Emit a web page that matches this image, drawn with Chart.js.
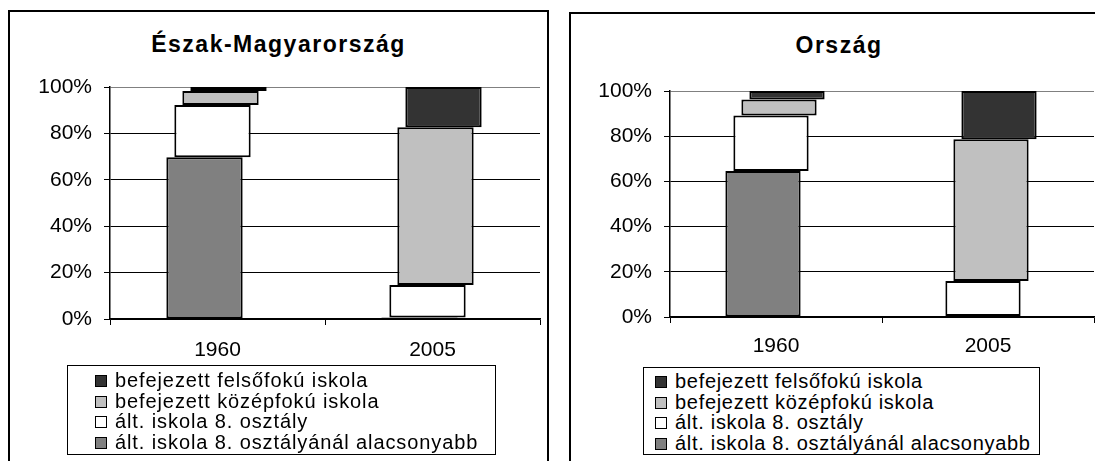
<!DOCTYPE html>
<html>
    <head>
        <meta charset="utf-8">
        <script src="https://cdn.jsdelivr.net/npm/chart.js"></script>
        <title>Iskolai végzettség</title>
        <style>
            body { margin:0; background:#fff; overflow:hidden; width:1095px; height:461px; position:relative; font-family:"Liberation Sans", Arial, sans-serif; }
            .panel { position:absolute; box-sizing:border-box; border:2px solid #000; background:#fff; }
            .title { position:absolute; left:0; width:100%; text-align:center; font-weight:bold; font-size:23px; line-height:26px; letter-spacing:1.5px; }
            .legend { position:absolute; box-sizing:border-box; border:1px solid #000; font-size:20px; line-height:20.5px; letter-spacing:0.7px; white-space:nowrap; }
            .legend .sq { display:inline-block; box-sizing:border-box; width:12px; height:12px; border:1px solid #000; margin-right:8px; vertical-align:0px; }
            canvas { position:absolute; left:0; top:0; }
        </style>
    </head>
    <body>
        <div class="panel" id="panel_eszak" style="left:8px; top:10px; width:541px; height:470px">
            <div class="title" style="top:19px">Észak-Magyarország</div>
            <canvas id="chart_eszak" width="537" height="357"></canvas>
            <div class="legend" id="legend_eszak" style="left:57px; top:353px; width:429px; height:90px; padding:4px 0 0 27px; letter-spacing:0.9px"></div>
        </div>
        <div class="panel" id="panel_orszag" style="left:569px; top:12px; width:540px; height:470px">
            <div class="title" style="top:18px">Ország</div>
            <canvas id="chart_orszag" width="536" height="353"></canvas>
            <div class="legend" id="legend_orszag" style="left:72px; top:353px; width:397px; height:88px; padding:3px 0 0 11px"></div>
        </div>

        <script type="text/javascript">
            // evek
            var categories = ["1960", "2005"];
            // sorozatok alulrol felfele
            var seriesNames = [
                "ált. iskola 8. osztályánál alacsonyabb",
                "ált. iskola 8. osztály",
                "befejezett középfokú iskola",
                "befejezett felsőfokú iskola"
            ];

            // Eszak-Magyarorszag (%)
            var eszakAlacsonyabb = [69.7, 0.7];
            var eszakAlt8 = [22.5, 14.0];
            var eszakKozep = [6.1, 67.9];
            var eszakFelso = [1.7, 17.4];

            // Orszag (%)
            var orszagAlacsonyabb = [64.6, 0.4];
            var orszagAlt8 = [24.6, 15.5];
            var orszagKozep = [7.0, 62.7];
            var orszagFelso = [3.8, 21.4];

            var yTickValues = [0, 20, 40, 60, 80, 100];

            var seriesColors = ["#808080", "#ffffff", "#c0c0c0", "#333333"];
            // az egyes sorozatok vizszintes eltolasa (px), mint az eredetin
            var seriesShift = [-13, -5, 3, 11];

            Chart.defaults.font.family = '"Liberation Sans", Arial, sans-serif';
            Chart.defaults.color = "#000";

            var shiftPlugin = {
                id: "shift",
                beforeDatasetDraw: function(chart, args){
                    chart.ctx.save();
                    chart.ctx.translate(seriesShift[args.index], 0);
                },
                afterDatasetDraw: function(chart){
                    chart.ctx.restore();
                }
            };

            function makeChart(canvasId, legendId, values, lay){
                var datasets = values.map(function(v, i){
                    return {
                        label: seriesNames[i],
                        data: v,
                        backgroundColor: seriesColors[i],
                        borderColor: "#000",
                        borderWidth: 2,
                        borderSkipped: false,
                        categoryPercentage: 1,
                        barPercentage: 0.355,
                        clip: false
                    };
                });
                var chart = new Chart(document.getElementById(canvasId), {
                    type: "bar",
                    data: { labels: categories, datasets: datasets },
                    plugins: [shiftPlugin],
                    options: {
                        responsive: false,
                        animation: false,
                        layout: { padding: { left: 0, top: lay.top, right: lay.right, bottom: 0 } },
                        plugins: { legend: { display: false }, title: { display: false }, tooltip: { enabled: false } },
                        scales: {
                            x: {
                                stacked: true,
                                afterFit: function(s){ s.height = lay.xHeight; },
                                grid: {
                                    offset: true,
                                    drawOnChartArea: true,
                                    color: function(c){ return c.index === 2 ? "#808080" : "rgba(0,0,0,0)"; },
                                    tickColor: "#000",
                                    tickLength: 6
                                },
                                border: { color: "#000", width: 1.5 },
                                ticks: { font: { size: 21 }, padding: lay.xPad }
                            },
                            y: {
                                stacked: true,
                                min: 0,
                                max: 100,
                                afterFit: function(s){ s.width = lay.yWidth; },
                                afterBuildTicks: function(s){
                                    s.ticks = yTickValues.map(function(v){ return { value: v }; });
                                },
                                grid: {
                                    color: function(c){ return c.tick && c.tick.value === 100 ? "#808080" : "#000"; },
                                    tickColor: "#000",
                                    tickLength: 6,
                                    lineWidth: 1
                                },
                                border: { color: "#000", width: 1.5 },
                                ticks: {
                                    font: { size: 21 },
                                    padding: 12,
                                    callback: function(v){ return v + "%"; }
                                }
                            }
                        }
                    }
                });

                // jelmagyarazat, felulrol lefele forditott sorrendben
                var legend = document.getElementById(legendId);
                for (var i = datasets.length - 1; i >= 0; i--) {
                    var row = document.createElement("div");
                    var sq = document.createElement("span");
                    sq.className = "sq";
                    sq.style.background = datasets[i].backgroundColor;
                    row.appendChild(sq);
                    row.appendChild(document.createTextNode(datasets[i].label));
                    legend.appendChild(row);
                }
                return chart;
            }

            makeChart("chart_eszak", "legend_eszak",
                [eszakAlacsonyabb, eszakAlt8, eszakKozep, eszakFelso],
                { top: 75, right: 7, yWidth: 100, xHeight: 50, xPad: 13 });
            makeChart("chart_orszag", "legend_orszag",
                [orszagAlacsonyabb, orszagAlt8, orszagKozep, orszagFelso],
                { top: 77, right: 13, yWidth: 99, xHeight: 50, xPad: 11 });
        </script>
    </body>
</html>
